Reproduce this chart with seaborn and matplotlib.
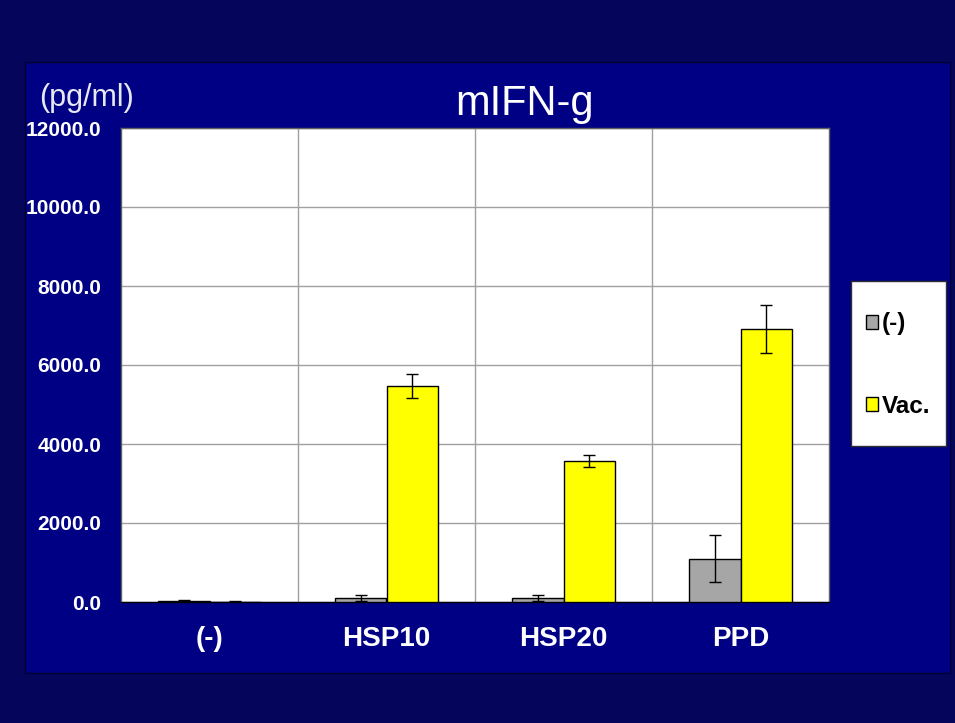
import numpy as np
import pandas as pd
import matplotlib
matplotlib.use("Agg")
import matplotlib.pyplot as plt
import seaborn as sns
from matplotlib.patches import Rectangle

categories = ["(-)", "HSP10", "HSP20", "PPD"]
groups = ["(-)", "Vac."]
neg_values = [20, 100, 100, 1100]
neg_err = [20, 80, 80, 600]
vac_values = [10, 5470, 3570, 6910]
vac_err = [10, 300, 150, 600]

df = pd.DataFrame({
    "stim": categories * 2,
    "group": [groups[0]] * 4 + [groups[1]] * 4,
    "value": neg_values + vac_values,
    "err": neg_err + vac_err,
})

sns.set_style("white")
plt.rcParams["font.family"] = ["Liberation Sans", "DejaVu Sans"]

fig = plt.figure(figsize=(9.55, 7.23), dpi=100)
fig.patch.set_facecolor("#05055c")
# inner blue panel
fig.patches.append(Rectangle((25 / 955, 1 - 673 / 723), 925 / 955, 611 / 723,
                             transform=fig.transFigure, facecolor="#000084",
                             edgecolor="#000030", linewidth=1.0, zorder=-5))
# legend box
fig.patches.append(Rectangle((851 / 955, 1 - 446 / 723), 95 / 955, 165 / 723,
                             transform=fig.transFigure, facecolor="white",
                             edgecolor="#303030", linewidth=1.0, zorder=-4))

ax = fig.add_axes([121 / 955, 1 - 602 / 723, 708 / 955, 474 / 723])
ax.set_zorder(2)
ax.set_facecolor("white")
sns.barplot(data=df, x="stim", y="value", hue="group", order=categories,
            hue_order=groups, palette=["#a6a6a6", "#ffff00"], saturation=1,
            width=0.58, edgecolor="black", linewidth=1.0, errorbar=None,
            ax=ax, zorder=3)

# error bars from the bar patches
for container, g in zip(ax.containers, groups):
    sub = df[df["group"] == g].set_index("stim").loc[categories]
    xs = [p.get_x() + p.get_width() / 2 for p in container.patches]
    ax.errorbar(xs, sub["value"], yerr=sub["err"], fmt="none", ecolor="black",
                elinewidth=1.0, capsize=4, capthick=1.0, zorder=4)

ax.set_ylim(0, 12000)
ax.set_xlim(-0.5, 3.5)
ax.set_yticks(np.arange(0, 12001, 2000))
ax.set_yticklabels([f"{v:.1f}" for v in np.arange(0, 12001, 2000)],
                   fontsize=15, fontweight="bold", color="white")
ax.set_xticks(range(4))
ax.set_xticklabels(categories, fontsize=20, fontweight="bold", color="white")
ax.set_xticks([0.5, 1.5, 2.5], minor=True)
ax.grid(axis="y", which="major", color="#a0a0a0", linewidth=1.0, zorder=0)
ax.grid(axis="x", which="minor", color="#a0a0a0", linewidth=1.0, zorder=0)
ax.grid(axis="x", which="major", visible=False)
ax.tick_params(axis="both", which="both", length=0)
ax.tick_params(axis="y", pad=14)
ax.tick_params(axis="x", pad=17)
ax.set_axisbelow(True)
for s in ax.spines.values():
    s.set_color("#606060")
    s.set_linewidth(1.0)
ax.spines["bottom"].set_color("black")
ax.set_xlabel("")
ax.set_ylabel("")

fig.text(525 / 955, 1 - 104 / 723, "mIFN-g", fontsize=30, color="white",
         ha="center", va="center", zorder=3)
fig.text(39 / 955, 1 - 98 / 723, "(pg/ml)", fontsize=22, color="#e8e8f0",
         ha="left", va="center", zorder=3)

leg = ax.legend(loc="center", bbox_to_anchor=(898 / 955, 1 - 365 / 723),
                bbox_transform=fig.transFigure, frameon=False,
                prop={"size": 17.5, "weight": "bold"}, handlelength=0.5,
                handleheight=0.5, handletextpad=0.15, labelspacing=2.45,
                borderpad=0)
for t in leg.get_texts():
    t.set_color("black")

fig.savefig("out.png", dpi=100, facecolor=fig.get_facecolor())
